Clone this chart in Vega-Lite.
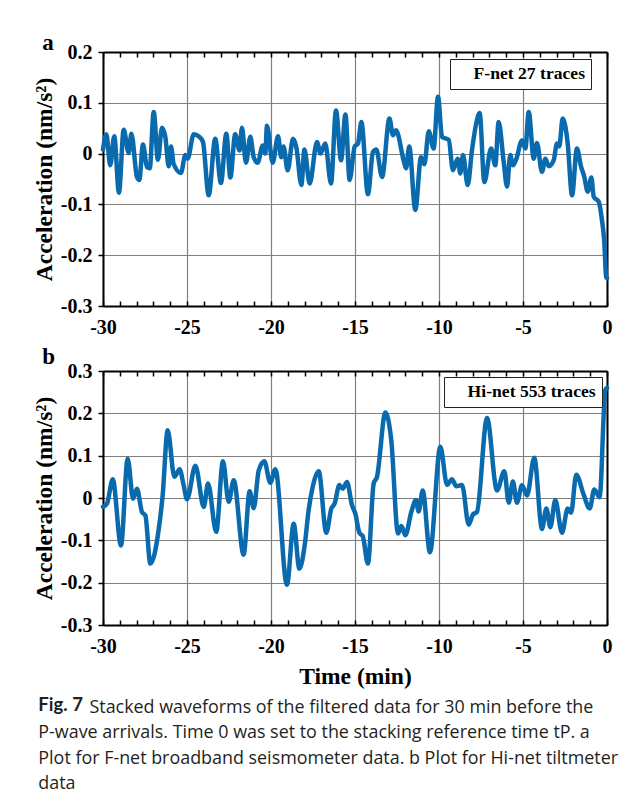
{
  "$schema": "https://vega.github.io/schema/vega-lite/v6.json",
  "background": "white",
  "padding": {"left": 32, "top": 32, "right": 4, "bottom": 5},
  "config": {
    "font": "Liberation Serif",
    "view": {"stroke": null},
    "axis": {
      "labelFont": "Liberation Serif", "labelFontSize": 20, "labelFontWeight": "bold", "labelColor": "black",
      "tickColor": "black", "tickWidth": 1.5,
      "domainColor": "black", "domainWidth": 2,
      "gridColor": "#808080", "gridWidth": 1.2,
      "titleFont": "Liberation Serif", "titleFontSize": 23.5, "titleFontWeight": "bold", "titleColor": "black"
    },
    "legend": {
      "labelFont": "Liberation Serif", "labelFontSize": 17.6, "labelFontWeight": "bold", "labelColor": "black",
      "strokeColor": "#222", "fillColor": "white", "padding": 6, "symbolSize": 0, "symbolStrokeWidth": 0,
      "symbolOpacity": 0, "labelOffset": 0, "title": null
    },
    "title": {"font": "Liberation Serif", "fontSize": 23, "fontWeight": "bold", "color": "black", "anchor": "start"}
  },
  "datasets": {
    "fnet": [
      {"t": -30, "v": 0.008}, {"t": -29.8, "v": 0.038}, {"t": -29.57, "v": -0.023}, {"t": -29.33, "v": 0.034},
      {"t": -29.05, "v": -0.077}, {"t": -28.77, "v": 0.047}, {"t": -28.47, "v": 0.001}, {"t": -28.31, "v": 0.039},
      {"t": -27.98, "v": -0.046}, {"t": -27.84, "v": -0.052}, {"t": -27.62, "v": 0.018}, {"t": -27.38, "v": -0.027},
      {"t": -27.22, "v": -0.029}, {"t": -26.98, "v": 0.082}, {"t": -26.73, "v": -0.012}, {"t": -26.49, "v": 0.051},
      {"t": -26.29, "v": 0.033}, {"t": -26.09, "v": -0.025}, {"t": -25.95, "v": 0.014}, {"t": -25.8, "v": -0.02},
      {"t": -25.36, "v": -0.038}, {"t": -25.1, "v": -0.003}, {"t": -24.96, "v": -0.01}, {"t": -24.6, "v": 0.038},
      {"t": -24.3, "v": 0.034}, {"t": -24.05, "v": 0.023}, {"t": -23.71, "v": -0.082}, {"t": -23.32, "v": 0.029},
      {"t": -22.98, "v": -0.058}, {"t": -22.66, "v": 0.039}, {"t": -22.42, "v": -0.047}, {"t": -22.13, "v": 0.038},
      {"t": -21.87, "v": 0.006}, {"t": -21.73, "v": 0.051}, {"t": -21.49, "v": -0.018}, {"t": -21.23, "v": 0.033},
      {"t": -21.03, "v": -0.007}, {"t": -20.79, "v": -0.018}, {"t": -20.49, "v": 0.016}, {"t": -20.34, "v": 0.0},
      {"t": -20.24, "v": 0.055}, {"t": -19.9, "v": -0.018}, {"t": -19.58, "v": 0.034}, {"t": -19.39, "v": -0.007},
      {"t": -19.25, "v": 0.014}, {"t": -19.01, "v": -0.033}, {"t": -18.69, "v": 0.029}, {"t": -18.49, "v": 0.012},
      {"t": -18.19, "v": -0.062}, {"t": -18.01, "v": 0.008}, {"t": -17.7, "v": -0.059}, {"t": -17.26, "v": 0.023},
      {"t": -17.06, "v": 0.0}, {"t": -16.77, "v": 0.02}, {"t": -16.43, "v": -0.059}, {"t": -16.13, "v": 0.085},
      {"t": -15.83, "v": -0.013}, {"t": -15.57, "v": 0.077}, {"t": -15.32, "v": -0.052}, {"t": -15.02, "v": 0.014},
      {"t": -14.82, "v": 0.02}, {"t": -14.62, "v": 0.062}, {"t": -14.23, "v": -0.08}, {"t": -13.93, "v": 0.003},
      {"t": -13.73, "v": 0.008}, {"t": -13.39, "v": -0.046}, {"t": -12.95, "v": 0.069}, {"t": -12.74, "v": 0.036},
      {"t": -12.56, "v": 0.046}, {"t": -12.1, "v": -0.014}, {"t": -11.96, "v": -0.029}, {"t": -11.77, "v": 0.014},
      {"t": -11.41, "v": -0.111}, {"t": -11.07, "v": -0.007}, {"t": -10.87, "v": -0.021}, {"t": -10.61, "v": 0.044},
      {"t": -10.32, "v": 0.01}, {"t": -10.06, "v": 0.112}, {"t": -9.82, "v": 0.033}, {"t": -9.42, "v": 0.027},
      {"t": -9.17, "v": -0.033}, {"t": -8.89, "v": -0.01}, {"t": -8.73, "v": -0.039}, {"t": -8.57, "v": -0.003},
      {"t": -8.29, "v": -0.062}, {"t": -8.04, "v": 0.006}, {"t": -7.78, "v": 0.06}, {"t": -7.58, "v": 0.08},
      {"t": -7.3, "v": -0.056}, {"t": -6.9, "v": 0.01}, {"t": -6.65, "v": -0.023}, {"t": -6.45, "v": 0.062},
      {"t": -6.15, "v": -0.016}, {"t": -5.95, "v": -0.065}, {"t": -5.76, "v": -0.003}, {"t": -5.6, "v": -0.023},
      {"t": -5.41, "v": -0.012}, {"t": -5.06, "v": 0.026}, {"t": -4.86, "v": 0.01}, {"t": -4.66, "v": 0.082},
      {"t": -4.36, "v": -0.01}, {"t": -4.17, "v": 0.021}, {"t": -3.87, "v": -0.036}, {"t": -3.67, "v": -0.01},
      {"t": -3.47, "v": -0.025}, {"t": -3.17, "v": -0.013}, {"t": -2.98, "v": 0.02}, {"t": -2.84, "v": 0.014},
      {"t": -2.64, "v": 0.069}, {"t": -2.34, "v": 0.02}, {"t": -2.08, "v": -0.082}, {"t": -1.79, "v": 0.01},
      {"t": -1.55, "v": -0.025}, {"t": -1.35, "v": -0.046}, {"t": -1.15, "v": -0.075}, {"t": -0.93, "v": -0.047},
      {"t": -0.79, "v": -0.085}, {"t": -0.49, "v": -0.095}, {"t": -0.3, "v": -0.131}, {"t": -0.17, "v": -0.17},
      {"t": -0.05, "v": -0.243}, {"t": 0, "v": -0.245}
    ],
    "hinet": [
      {"t": -30, "v": -0.021}, {"t": -29.76, "v": -0.013}, {"t": -29.42, "v": 0.044}, {"t": -28.93, "v": -0.112},
      {"t": -28.53, "v": 0.093}, {"t": -28.21, "v": -0.002}, {"t": -27.98, "v": 0.022}, {"t": -27.68, "v": -0.033},
      {"t": -27.48, "v": -0.041}, {"t": -27.18, "v": -0.155}, {"t": -26.68, "v": -0.073}, {"t": -26.45, "v": 0.006},
      {"t": -26.15, "v": 0.16}, {"t": -25.75, "v": 0.05}, {"t": -25.44, "v": 0.068}, {"t": -25.2, "v": 0.03},
      {"t": -25.0, "v": -0.003}, {"t": -24.5, "v": 0.076}, {"t": -24.0, "v": -0.021}, {"t": -23.75, "v": 0.034},
      {"t": -23.26, "v": -0.08}, {"t": -22.86, "v": 0.087}, {"t": -22.52, "v": -0.009}, {"t": -22.22, "v": 0.042},
      {"t": -21.63, "v": -0.134}, {"t": -21.27, "v": 0.016}, {"t": -21.03, "v": -0.024}, {"t": -20.73, "v": 0.065},
      {"t": -20.4, "v": 0.087}, {"t": -20.04, "v": 0.036}, {"t": -19.74, "v": 0.068}, {"t": -19.05, "v": -0.205},
      {"t": -18.65, "v": -0.061}, {"t": -18.31, "v": -0.167}, {"t": -17.99, "v": -0.11}, {"t": -17.76, "v": -0.029},
      {"t": -17.52, "v": 0.026}, {"t": -17.16, "v": 0.063}, {"t": -16.71, "v": -0.082}, {"t": -16.41, "v": -0.025},
      {"t": -16.21, "v": -0.013}, {"t": -15.93, "v": 0.031}, {"t": -15.73, "v": 0.022}, {"t": -15.48, "v": 0.038},
      {"t": -15.18, "v": -0.017}, {"t": -14.98, "v": -0.037}, {"t": -14.74, "v": -0.082}, {"t": -14.54, "v": -0.09},
      {"t": -14.23, "v": -0.155}, {"t": -13.89, "v": 0.034}, {"t": -13.69, "v": 0.05}, {"t": -13.19, "v": 0.202},
      {"t": -12.84, "v": 0.136}, {"t": -12.44, "v": -0.084}, {"t": -12.24, "v": -0.066}, {"t": -12.0, "v": -0.088},
      {"t": -11.65, "v": -0.033}, {"t": -11.37, "v": -0.005}, {"t": -11.21, "v": -0.032}, {"t": -10.97, "v": 0.018},
      {"t": -10.54, "v": -0.128}, {"t": -9.92, "v": 0.121}, {"t": -9.52, "v": 0.031}, {"t": -9.23, "v": 0.044},
      {"t": -8.97, "v": 0.028}, {"t": -8.63, "v": 0.031}, {"t": -8.23, "v": -0.063}, {"t": -7.98, "v": -0.039},
      {"t": -7.74, "v": -0.033}, {"t": -7.14, "v": 0.189}, {"t": -6.55, "v": 0.018}, {"t": -6.11, "v": 0.063},
      {"t": -5.85, "v": -0.011}, {"t": -5.6, "v": 0.039}, {"t": -5.36, "v": -0.011}, {"t": -5.06, "v": 0.03},
      {"t": -4.76, "v": 0.006}, {"t": -4.33, "v": 0.095}, {"t": -3.87, "v": -0.073}, {"t": -3.61, "v": -0.025},
      {"t": -3.37, "v": -0.069}, {"t": -3.08, "v": -0.005}, {"t": -2.68, "v": -0.082}, {"t": -2.34, "v": -0.025},
      {"t": -2.14, "v": -0.035}, {"t": -1.83, "v": 0.055}, {"t": -1.39, "v": 0.008}, {"t": -1.03, "v": -0.025},
      {"t": -0.76, "v": 0.02}, {"t": -0.44, "v": 0.002}, {"t": -0.1, "v": 0.255}, {"t": 0, "v": 0.26}
    ]
  },
  "title": {
    "text": "Fig. 7",
    "subtitle": [
      "\u200b\u00a0\u00a0\u00a0\u00a0\u00a0\u00a0\u00a0\u00a0\u00a0\u00a0\u00a0Stacked waveforms of the filtered data for 30 min before the",
      "P-wave arrivals. Time 0 was set to the stacking reference time tP. a",
      "Plot for F-net broadband seismometer data. b Plot for Hi-net tiltmeter",
      "data"
    ],
    "orient": "bottom",
    "anchor": "start",
    "frame": "bounds",
    "font": "Lato",
    "fontSize": 18.5,
    "fontWeight": "bold",
    "color": "#231f20",
    "subtitleFont": "Open Sans",
    "subtitleFontSize": 17.9,
    "subtitleColor": "#231f20",
    "subtitleLineHeight": 25.3,
    "subtitlePadding": -15.5,
    "offset": 8,
    "dx": 6
  },
  "spacing": 8,
  "vconcat": [
    {
      "width": 504,
      "height": 254,
      "title": {"text": "a", "offset": -13, "dx": 10},
      "data": {"name": "fnet"},
      "layer": [
        {
          "mark": {"type": "line", "interpolate": "monotone", "strokeWidth": 4.5, "strokeJoin": "round", "strokeCap": "round"},
          "encoding": {
            "x": {
              "field": "t", "type": "quantitative",
              "scale": {"domain": [-30, 0], "nice": false, "zero": false},
              "axis": {
                "orient": "bottom", "title": null,
                "values": [-30,-29,-28,-27,-26,-25,-24,-23,-22,-21,-20,-19,-18,-17,-16,-15,-14,-13,-12,-11,-10,-9,-8,-7,-6,-5,-4,-3,-2,-1,0],
                "labelExpr": "datum.value % 5 === 0 ? '' + datum.value : ''",
                "labelOverlap": false, "labelFlush": false, "labelPadding": 16.5,
                "tickSize": -5,
                "grid": true,
                "gridOpacity": {"condition": {"test": "datum.value % 5 !== 0", "value": 0}, "value": 1}
              }
            },
            "y": {
              "field": "v", "type": "quantitative",
              "scale": {"domain": [-0.3, 0.2], "nice": false, "zero": false},
              "axis": {
                "title": "Acceleration (nm/s²)", "titlePadding": 4,
                "values": [-0.3, -0.2, -0.1, 0, 0.1, 0.2],
                "labelExpr": "'' + datum.value",
                "tickSize": 5, "labelPadding": 6, "grid": true
              }
            },
            "color": {
              "datum": "F-net 27 traces", "type": "nominal",
              "scale": {"range": ["#0a6aae"]},
              "legend": {"orient": "none", "legendX": 347, "legendY": 7}
            }
          }
        },
        {
          "mark": {"type": "line", "strokeOpacity": 0},
          "encoding": {
            "x": {
              "field": "t", "type": "quantitative",
              "axis": {
                "orient": "top", "title": null, "labels": false, "grid": false, "tickSize": -5,
                "values": [-30,-29,-28,-27,-26,-25,-24,-23,-22,-21,-20,-19,-18,-17,-16,-15,-14,-13,-12,-11,-10,-9,-8,-7,-6,-5,-4,-3,-2,-1,0]
              }
            },
            "y": {
              "field": "v", "type": "quantitative",
              "axis": {"orient": "right", "title": null, "labels": false, "ticks": false, "grid": false}
            }
          }
        }
      ],
      "resolve": {"axis": {"x": "independent", "y": "independent"}}
    },
    {
      "width": 504,
      "height": 254,
      "title": {"text": "b", "offset": -8, "dx": 10},
      "data": {"name": "hinet"},
      "layer": [
        {
          "mark": {"type": "line", "interpolate": "monotone", "strokeWidth": 4.5, "strokeJoin": "round", "strokeCap": "round"},
          "encoding": {
            "x": {
              "field": "t", "type": "quantitative",
              "scale": {"domain": [-30, 0], "nice": false, "zero": false},
              "axis": {
                "orient": "bottom", "title": "Time (min)", "titlePadding": 8,
                "values": [-30,-29,-28,-27,-26,-25,-24,-23,-22,-21,-20,-19,-18,-17,-16,-15,-14,-13,-12,-11,-10,-9,-8,-7,-6,-5,-4,-3,-2,-1,0],
                "labelExpr": "datum.value % 5 === 0 ? '' + datum.value : ''",
                "labelOverlap": false, "labelFlush": false, "labelPadding": 16.5,
                "tickSize": -5,
                "grid": true,
                "gridOpacity": {"condition": {"test": "datum.value % 5 !== 0", "value": 0}, "value": 1}
              }
            },
            "y": {
              "field": "v", "type": "quantitative",
              "scale": {"domain": [-0.3, 0.3], "nice": false, "zero": false},
              "axis": {
                "title": "Acceleration (nm/s²)", "titlePadding": 4,
                "values": [-0.3, -0.2, -0.1, 0, 0.1, 0.2, 0.3],
                "labelExpr": "'' + datum.value",
                "tickSize": 5, "labelPadding": 6, "grid": true
              }
            },
            "color": {
              "datum": "Hi-net 553 traces", "type": "nominal",
              "scale": {"range": ["#0a6aae"]},
              "legend": {"orient": "none", "legendX": 341, "legendY": 6}
            }
          }
        },
        {
          "mark": {"type": "line", "strokeOpacity": 0},
          "encoding": {
            "x": {
              "field": "t", "type": "quantitative",
              "axis": {
                "orient": "top", "title": null, "labels": false, "grid": false, "tickSize": -5,
                "values": [-30,-29,-28,-27,-26,-25,-24,-23,-22,-21,-20,-19,-18,-17,-16,-15,-14,-13,-12,-11,-10,-9,-8,-7,-6,-5,-4,-3,-2,-1,0]
              }
            },
            "y": {
              "field": "v", "type": "quantitative",
              "axis": {"orient": "right", "title": null, "labels": false, "ticks": false, "grid": false}
            }
          }
        }
      ],
      "resolve": {"axis": {"x": "independent", "y": "independent"}}
    }
  ],
  "resolve": {"scale": {"color": "independent"}, "legend": {"color": "independent"}}
}
